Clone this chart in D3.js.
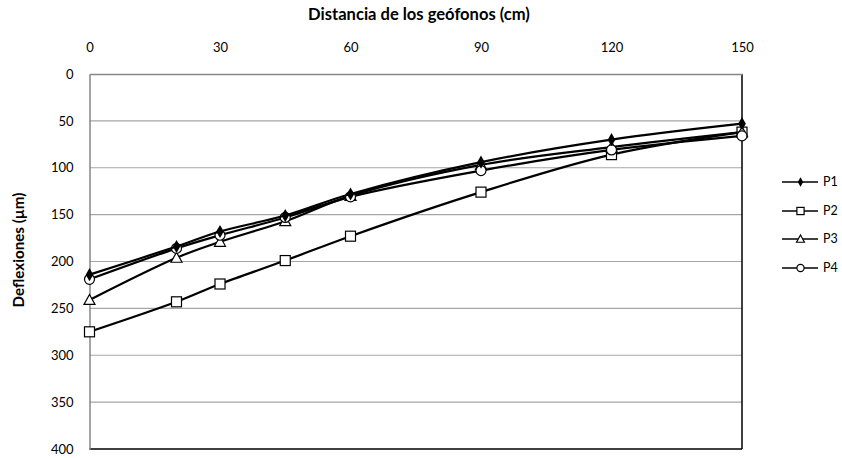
<!DOCTYPE html>
<html><head><meta charset="utf-8">
<script src="https://cdn.jsdelivr.net/npm/d3@7"></script>
<style>body{margin:0;background:#fff;} text{font-family:Lato,"Open Sans",sans-serif;}</style>
</head><body><svg id="c" width="842" height="458"></svg>
<script>
const distances = [0, 20, 30, 45, 60, 90, 120, 150];
const xTicks = [0, 30, 60, 90, 120, 150];
const yTicks = [0, 50, 100, 150, 200, 250, 300, 350, 400];
const seriesNames = ["P1", "P2", "P3", "P4"];
const p1 = [214, 184, 168, 151, 128, 94, 70, 53];
const p2 = [275, 243, 224, 199, 173, 126, 86, 62];
const p3 = [241, 196, 179, 157, 130, 97, 78, 62];
const p4 = [219, 186, 172, 153, 131, 103, 81, 66];
const markers = ["diamond", "square", "triangle", "circle"];

const svg = d3.select("#c");
const L = 89.5, R = 742, T = 74, B = 449;
const x = d3.scaleLinear().domain([0, 150]).range([L, R]);
const y = d3.scaleLinear().domain([0, 400]).range([T, B]);

// gridlines
svg.append("g").selectAll("line").data(yTicks.slice(1, -1)).join("line")
  .attr("x1", L).attr("x2", R).attr("y1", d => y(d)).attr("y2", d => y(d))
  .attr("stroke", "#a6a6a6").attr("stroke-width", 1.2);

// border right/bottom black
svg.append("line").attr("x1", R).attr("x2", R).attr("y1", T).attr("y2", B).attr("stroke", "#000").attr("stroke-width", 1.5);
svg.append("line").attr("x1", L).attr("x2", R).attr("y1", B).attr("y2", B).attr("stroke", "#000").attr("stroke-width", 1.5);

// axes
const xAxis = d3.axisTop(x).tickValues(xTicks).tickSize(0).tickPadding(0);
const gx = svg.append("g").attr("transform", `translate(0,${T})`).call(xAxis);
gx.select(".domain").attr("stroke", "#868686").attr("stroke-width", 1.5);
gx.selectAll("text").attr("y", -22).attr("font-size", 13).attr("fill", "#000").attr("font-family", "Lato, sans-serif");

const yAxis = d3.axisLeft(y).tickValues(yTicks).tickSize(0).tickPadding(16);
const gy = svg.append("g").attr("transform", `translate(${L},0)`).call(yAxis);
gy.select(".domain").attr("stroke", "#868686").attr("stroke-width", 1.5);
gy.selectAll("text").attr("font-size", 13).attr("fill", "#000").attr("font-family", "Lato, sans-serif");

function fit(t, target) {
  const w = t.node().getComputedTextLength();
  const fs = parseFloat(t.attr("font-size"));
  t.attr("font-size", (fs * target / w).toFixed(2));
}
// titles
const tt = svg.append("text").attr("x", 419).attr("y", 20).attr("text-anchor", "middle")
  .attr("font-size", 13).attr("font-weight", "bold").text("Distancia de los geófonos (cm)");
fit(tt, 222);
const yt = svg.append("text").attr("transform", "translate(24,250) rotate(-90)").attr("text-anchor", "middle")
  .attr("font-size", 13).attr("font-weight", "bold").text("Deflexiones (µm)");
fit(yt, 115);

function drawMarker(g, type, cx, cy, s) {
  if (type === "diamond") {
    g.append("path").attr("d", d3.symbol(d3.symbolDiamond, 50 * s * s)()).attr("transform", `translate(${cx},${cy})`)
      .attr("fill", "#000");
  } else if (type === "square") {
    g.append("rect").attr("x", cx - 5 * s).attr("y", cy - 5 * s).attr("width", 10 * s).attr("height", 10 * s)
      .attr("fill", "#fff").attr("stroke", "#000").attr("stroke-width", 1.2);
  } else if (type === "triangle") {
    g.append("path").attr("d", `M${cx},${cy - 5.5 * s}L${cx + 5.5 * s},${cy + 4.5 * s}L${cx - 5.5 * s},${cy + 4.5 * s}Z`)
      .attr("fill", "#fff").attr("stroke", "#000").attr("stroke-width", 1.2);
  } else {
    g.append("circle").attr("cx", cx).attr("cy", cy).attr("r", 5 * s)
      .attr("fill", "#fff").attr("stroke", "#000").attr("stroke-width", 1.2);
  }
}

const allSeries = [p1, p2, p3, p4];
const line = d3.line().x(d => x(d[0])).y(d => y(d[1])).curve(d3.curveCatmullRom.alpha(0.5));
const order = [1, 2, 3, 0];
order.forEach(i => {
  const pts = distances.map((d, j) => [d, allSeries[i][j]]);
  const g = svg.append("g");
  g.append("path").attr("d", line(pts)).attr("fill", "none").attr("stroke", "#000").attr("stroke-width", 2.2);
  pts.forEach(p => drawMarker(g, markers[i], x(p[0]), y(p[1]), 1));
});

// legend
const legY = [182, 211, 239, 268];
seriesNames.forEach((n, i) => {
  const g = svg.append("g");
  g.append("line").attr("x1", 782).attr("x2", 818).attr("y1", legY[i]).attr("y2", legY[i]).attr("stroke", "#000").attr("stroke-width", 1.5);
  drawMarker(g, markers[i], 800.5, legY[i], 0.72);
  g.append("text").attr("x", 823).attr("y", legY[i]).attr("dy", "0.35em").attr("font-size", 12.5).text(n);
});
</script></body></html>
